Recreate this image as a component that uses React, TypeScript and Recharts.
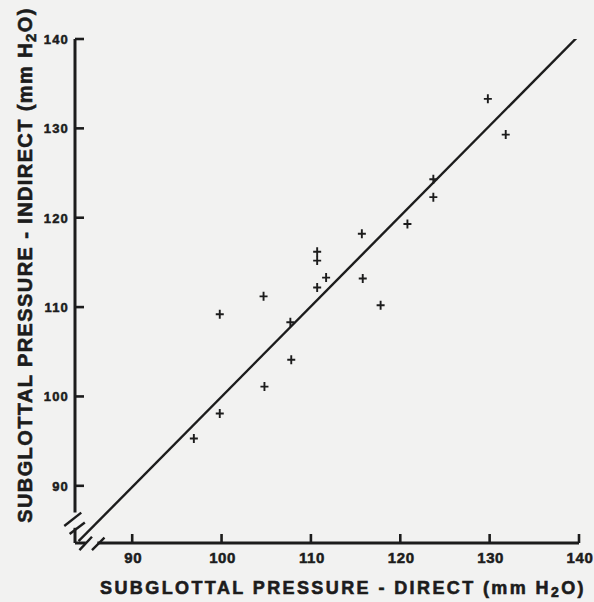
import React from "react";
import {
  Label,
  ReferenceLine,
  Scatter,
  ScatterChart,
  XAxis,
  YAxis,
} from "recharts";

// direct vs indirect subglottal pressure, mm H2O
const directX = [
  96.9, 99.8, 99.8, 104.8, 104.7, 107.8, 107.7, 110.7, 110.7, 110.7, 111.7,
  115.7, 115.8, 117.8, 120.8, 123.7, 123.7, 129.8, 131.8,
];
const indirectY = [
  95.3, 98.1, 109.2, 101.1, 111.2, 104.1, 108.3, 112.2, 115.2, 116.2, 113.3,
  118.2, 113.2, 110.2, 119.3, 124.3, 122.3, 133.3, 129.3,
];

// line of identity
const lineX = [84, 140];
const lineY = [83.8, 140.4];

const tickValues = [90, 100, 110, 120, 130, 140];
const AXIS_MIN = 83.6;
const AXIS_MAX = 140;

const points = directX.map((x, i) => ({ x, y: indirectY[i] }));
const identity = lineX.map((x, i) => ({ x, y: lineY[i] }));

const INK = "#1c1c1c";
const FONT = "'Liberation Sans', Arial, sans-serif";

function Cross(props: any) {
  const { cx, cy } = props;
  if (cx == null || cy == null) return null;
  return (
    <path
      d={`M${cx - 4},${cy}h8M${cx},${cy - 4.5}v9`}
      stroke={INK}
      strokeWidth={1.9}
    />
  );
}

function NoDot() {
  return null;
}

function XTick(props: any) {
  const { x, y, payload } = props;
  return (
    <g>
      <line x1={x} x2={x} y1={y} y2={y - 9} stroke={INK} strokeWidth={2.6} />
      <text
        x={x + 1}
        y={y + 20}
        textAnchor="middle"
        fill={INK}
        stroke={INK}
        strokeWidth={0.5}
        fontFamily={FONT}
        fontWeight={700}
        fontSize={15}
        letterSpacing={0.6}
      >
        {payload.value}
      </text>
    </g>
  );
}

function YTick(props: any) {
  const { x, y, payload } = props;
  return (
    <g>
      <line x1={x} x2={x + 9} y1={y} y2={y} stroke={INK} strokeWidth={2.6} />
      <text
        x={x - 6}
        y={y + 5}
        textAnchor="end"
        fill={INK}
        stroke={INK}
        strokeWidth={0.5}
        fontFamily={FONT}
        fontWeight={700}
        fontSize={13}
        letterSpacing={1.2}
      >
        {payload.value}
      </text>
    </g>
  );
}

function XTitle() {
  return (
    <text
      x={343}
      y={594}
      textAnchor="middle"
      fill={INK}
      stroke={INK}
      strokeWidth={0.6}
      fontFamily={FONT}
      fontWeight={700}
      fontSize={18}
      letterSpacing={2.4}
    >
      SUBGLOTTAL PRESSURE - DIRECT (mm H
      <tspan fontSize={14} dy={3}>
        2
      </tspan>
      <tspan dy={-3}>O)</tspan>
    </text>
  );
}

function YTitle() {
  return (
    <text
      transform="translate(32,265) rotate(-90)"
      textAnchor="middle"
      fill={INK}
      stroke={INK}
      strokeWidth={0.6}
      fontFamily={FONT}
      fontWeight={700}
      fontSize={20}
      letterSpacing={1.4}
    >
      SUBGLOTTAL PRESSURE - INDIRECT (mm H
      <tspan fontSize={15} dy={4}>
        2
      </tspan>
      <tspan dy={-4}>O)</tspan>
    </text>
  );
}

const seg = (x1: number, y1: number, x2: number, y2: number) => [
  { x: x1, y: y1 },
  { x: x2, y: y2 },
];

export default function App() {
  return (
    <div
      style={{
        position: "absolute",
        left: 0,
        top: 0,
        width: 594,
        height: 602,
        background: "#f2f2f1",
      }}
    >
      <ScatterChart
        width={594}
        height={602}
        margin={{ top: 39, right: 15, bottom: 0, left: 0 }}
      >
        <XAxis
          type="number"
          dataKey="x"
          domain={[AXIS_MIN, AXIS_MAX]}
          ticks={tickValues}
          allowDataOverflow
          height={59}
          axisLine={false}
          tickLine={false}
          tickSize={0}
          tickMargin={0}
          tick={<XTick />}
        >
          <Label content={<XTitle />} />
        </XAxis>
        <YAxis
          type="number"
          dataKey="y"
          domain={[AXIS_MIN, AXIS_MAX]}
          ticks={tickValues}
          allowDataOverflow
          width={75}
          axisLine={false}
          tickLine={false}
          tickSize={0}
          tickMargin={0}
          tick={<YTick />}
        >
          <Label content={<YTitle />} />
        </YAxis>

        {/* axis lines with breaks near the origin */}
        <ReferenceLine segment={seg(AXIS_MIN, 87.0, AXIS_MIN, 140)} stroke={INK} strokeWidth={3} ifOverflow="visible" />
        <ReferenceLine segment={seg(AXIS_MIN, AXIS_MIN, AXIS_MIN, 85.3)} stroke={INK} strokeWidth={3} ifOverflow="visible" />
        <ReferenceLine segment={seg(AXIS_MIN, AXIS_MIN, 84.8, AXIS_MIN)} stroke={INK} strokeWidth={3} ifOverflow="visible" />
        <ReferenceLine segment={seg(86.1, AXIS_MIN, 140, AXIS_MIN)} stroke={INK} strokeWidth={3} ifOverflow="visible" />
        <ReferenceLine segment={seg(82.4, 85.5, 84.3, 87.0)} stroke={INK} strokeWidth={2.4} ifOverflow="visible" />
        <ReferenceLine segment={seg(83.0, 84.6, 84.7, 85.9)} stroke={INK} strokeWidth={2.4} ifOverflow="visible" />
        <ReferenceLine segment={seg(84.1, 82.8, 85.5, 84.3)} stroke={INK} strokeWidth={2.4} ifOverflow="visible" />
        <ReferenceLine segment={seg(85.5, 82.8, 86.9, 84.2)} stroke={INK} strokeWidth={2.4} ifOverflow="visible" />

        <Scatter
          data={identity}
          line={{ stroke: INK, strokeWidth: 2.4 }}
          shape={<NoDot />}
          isAnimationActive={false}
        />
        <Scatter data={points} shape={<Cross />} isAnimationActive={false} />
      </ScatterChart>
    </div>
  );
}
